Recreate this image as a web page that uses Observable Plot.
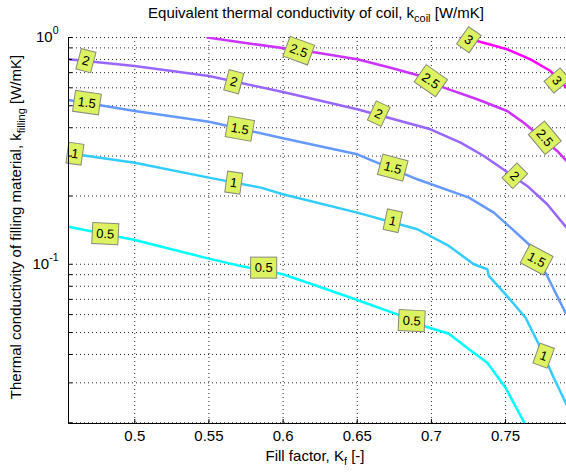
<!DOCTYPE html>
<html><head><meta charset="utf-8">
<script src="https://cdn.jsdelivr.net/npm/d3@7"></script>
<script src="https://cdn.jsdelivr.net/npm/@observablehq/plot@0.6"></script>
<style>
body{margin:0;background:#fff;}
#wrap{position:relative;width:566px;height:473px;overflow:hidden;font-family:"Liberation Sans",Arial,sans-serif;color:#000;}
.t{position:absolute;white-space:nowrap;font-size:15px;line-height:1;}
.t sub{font-size:11px;vertical-align:baseline;position:relative;top:4px;}
#title{left:316px;top:5px;transform:translateX(-50%);}
#xlab{left:315px;top:448px;transform:translateX(-50%);}
#ylab{left:15px;top:227px;transform:translate(-50%,-50%) rotate(-90deg);}
</style></head><body>
<div id="wrap"><div id="chart"></div>
<div class="t" id="title">Equivalent thermal conductivity of coil, k<sub>coil</sub> [W/mK]</div>
<div class="t" id="xlab">Fill factor, K<sub>f</sub> [-]</div>
<div class="t" id="ylab">Thermal conductivity of filling material, k<sub>filling</sub> [W/mK]</div>
</div>
<script>
// contour levels of k_coil
const levels = [0.5, 1, 1.5, 2, 2.5, 3];
const levelColors = ["#00ffff", "#33ccff", "#6699ff", "#9966ff", "#cc33ff", "#ff00ff"];

// contour k_coil = 0.5
const kf_05    = [0.4553, 0.5, 0.5499, 0.5714, 0.5999, 0.623, 0.650, 0.6779, 0.6949, 0.7118, 0.7251, 0.7377, 0.75, 0.763];
const kfill_05 = [0.1465, 0.128, 0.1059, 0.0983, 0.0903, 0.0802, 0.0696, 0.0598, 0.0534, 0.0494, 0.0423, 0.0368, 0.02856, 0.0198];
// contour k_coil = 1
const kf_10    = [0.4553, 0.5, 0.55, 0.5849, 0.5999, 0.650, 0.6905, 0.7118, 0.7286, 0.7377, 0.7387, 0.75, 0.7635, 0.7724, 0.7825, 0.7911];
const kfill_10 = [0.3086, 0.2805, 0.241, 0.2177, 0.2035, 0.1689, 0.1427, 0.1204, 0.1000, 0.0951, 0.0888, 0.0737, 0.0581, 0.0444, 0.0316, 0.0241];
// contour k_coil = 1.5
const kf_15    = [0.4553, 0.5, 0.55, 0.5999, 0.650, 0.6905, 0.7253, 0.7421, 0.7534, 0.7657, 0.7781, 0.7904];
const kfill_15 = [0.530, 0.474, 0.425, 0.3593, 0.3055, 0.2370, 0.1966, 0.1689, 0.145, 0.1225, 0.0888, 0.0612];
// contour k_coil = 2
const kf_20    = [0.4553, 0.5, 0.55, 0.5999, 0.650, 0.6859, 0.6994, 0.7197, 0.7354, 0.7646, 0.7781, 0.7911];
const kfill_20 = [0.8014, 0.7485, 0.6765, 0.5748, 0.4825, 0.4168, 0.3938, 0.3437, 0.3003, 0.2215, 0.1839, 0.145];
// contour k_coil = 2.5
const kf_25    = [0.549, 0.5782, 0.6231, 0.650, 0.6725, 0.6927, 0.7084, 0.7309, 0.7511, 0.7623, 0.7848, 0.7911];
const kfill_25 = [1.0, 0.939, 0.857, 0.8014, 0.736, 0.6765, 0.6008, 0.534, 0.474, 0.421, 0.316, 0.2854];
// contour k_coil = 3
const kf_30    = [0.7197, 0.7309, 0.7511, 0.7668, 0.7803, 0.7911];
const kfill_30 = [1.0, 0.965, 0.887, 0.8014, 0.7115, 0.6008];

// inline contour labels
const labelText  = ["0.5","0.5","0.5","1","1","1","1","1.5","1.5","1.5","1.5","2","2","2","2","2.5","2.5","2.5","3","3"];
const labelKf    = [0.4801,0.5869,0.6867, 0.4596,0.5667,0.6739,0.7756, 0.4677,0.5708,0.6739,0.7709, 0.467,0.5667,0.6644,0.7561, 0.6105,0.6995,0.7763, 0.7251,0.7845];
const labelKfill = [0.136,0.0963,0.0562, 0.3064,0.2283,0.155,0.0394, 0.5143,0.395,0.2658,0.1045, 0.788,0.6364,0.46,0.245, 0.872,0.643,0.3604, 0.975,0.645];
const labelAngle = [3,0,3, 8,8,12,20, 8,10,15,28, 15,15,25,45, 20,35,50, 35,50];

// axes
const xTicks = [0.5, 0.55, 0.6, 0.65, 0.7, 0.75];
const yTickLabels = [1, 0.1];
const yGrid = [0.02,0.03,0.04,0.05,0.06,0.07,0.08,0.09,0.1,0.2,0.3,0.4,0.5,0.6,0.7,0.8,0.9,1];
const xDomain = [0.4553, 0.7911];
const yDomain = [0.01985, 1];

const kfs = [kf_05, kf_10, kf_15, kf_20, kf_25, kf_30];
const kfills = [kfill_05, kfill_10, kfill_15, kfill_20, kfill_25, kfill_30];
const lineRows = levels.flatMap((lev, i) => kfs[i].map((x, j) => ({level: lev, kf: x, kfill: kfills[i][j]})));
const labels = labelText.map((t, i) => ({text: t, kf: labelKf[i], kfill: labelKfill[i], angle: labelAngle[i]}));

const gridStyle = {stroke: "#000", strokeOpacity: 0.85, strokeDasharray: "1,3"};

const chart = Plot.plot({
  width: 566, height: 473,
  marginLeft: 68, marginRight: 0, marginTop: 37, marginBottom: 50,
  style: {fontFamily: "'Liberation Sans', Arial, sans-serif", fontSize: "15px", background: "#fff", color: "#000"},
  x: {domain: xDomain, label: null},
  y: {type: "log", domain: yDomain, label: null},
  color: {type: "ordinal", domain: levels, range: levelColors},
  marks: [
    Plot.gridX(xTicks, gridStyle),
    Plot.gridY(yGrid, gridStyle),
    Plot.line(lineRows, {x: "kf", y: "kfill", z: "level", stroke: "level", strokeWidth: 2.5, clip: true}),
    Plot.text(labels, {x: "kf", y: "kfill", text: "text", rotate: "angle", fontSize: 13, fill: "#000", className: "clab"}),
    Plot.axisX(xTicks, {tickSize: 0, tickPadding: 7, tickFormat: d => String(d), label: null}),
    Plot.axisX(xTicks, {tickSize: -4, tickFormat: () => "", label: null}),
    Plot.axisY(yTickLabels, {tickSize: 0, tickPadding: 10, tickFormat: d => d === 1 ? "10|0" : "10|-1", label: null, className: "ylabs"}),
    Plot.axisY(yGrid, {tickSize: -4, tickFormat: () => "", label: null}),
    Plot.ruleX([xDomain[0]], {stroke: "#000"}),
    Plot.ruleY([yDomain[0]], {stroke: "#000"})
  ]
});
document.getElementById("chart").appendChild(chart);

// superscripts for the log tick labels
chart.querySelectorAll(".ylabs text").forEach(t => {
  const s = t.textContent;
  if (!s.includes("|")) return;
  const [base, exp] = s.split("|");
  t.textContent = "";
  const a = document.createElementNS("http://www.w3.org/2000/svg", "tspan");
  a.textContent = base;
  const b = document.createElementNS("http://www.w3.org/2000/svg", "tspan");
  b.textContent = exp;
  b.setAttribute("font-size", "10.5");
  b.setAttribute("dy", "-8");
  t.appendChild(a); t.appendChild(b);
});

// boxed contour labels
chart.querySelectorAll(".clab text").forEach(t => {
  const bb = t.getBBox();
  const padX = 4, padY = 3;
  const r = document.createElementNS("http://www.w3.org/2000/svg", "rect");
  r.setAttribute("x", bb.x - padX);
  r.setAttribute("y", bb.y - padY);
  r.setAttribute("width", bb.width + 2 * padX);
  r.setAttribute("height", bb.height + 2 * padY);
  r.setAttribute("fill", "#dcf260");
  r.setAttribute("stroke", "#8a8a7a");
  r.setAttribute("stroke-width", "1");
  const tr = t.getAttribute("transform");
  if (tr) r.setAttribute("transform", tr);
  t.parentNode.insertBefore(r, t);
});
</script>
</body></html>
